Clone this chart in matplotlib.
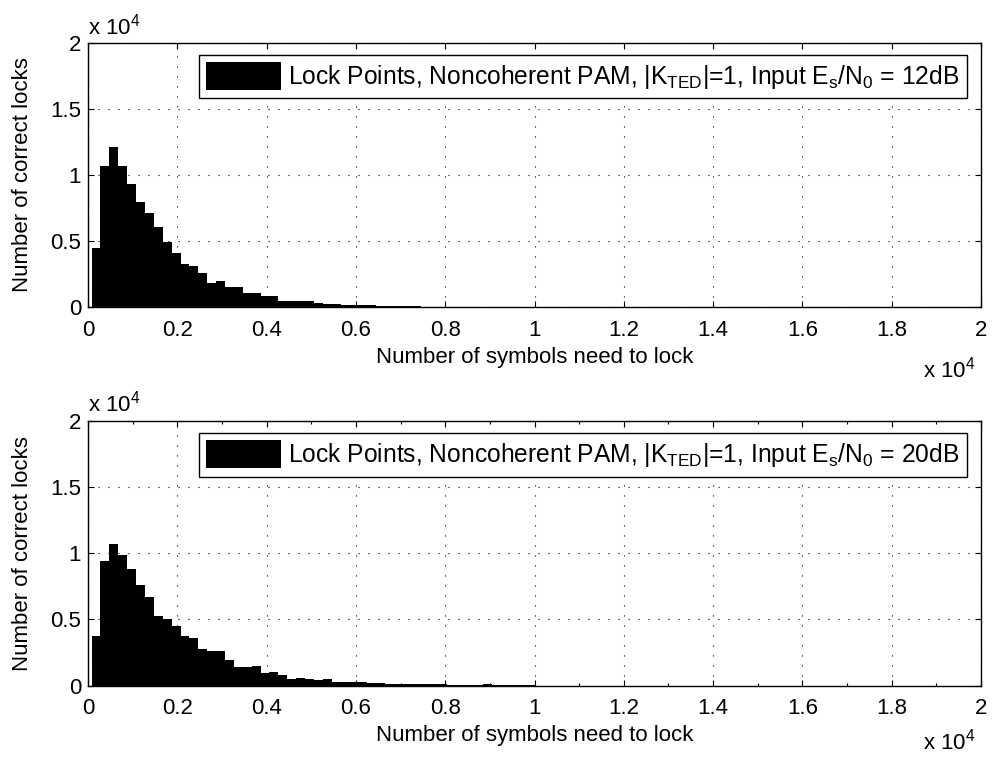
import numpy as np
import matplotlib
matplotlib.use("Agg")
import matplotlib.pyplot as plt

plt.rcParams['font.family'] = ['Liberation Sans', 'DejaVu Sans']
plt.rcParams['mathtext.fontset'] = 'custom'
plt.rcParams['mathtext.rm'] = 'Liberation Sans'
plt.rcParams['mathtext.it'] = 'Liberation Sans:italic'
plt.rcParams['mathtext.bf'] = 'Liberation Sans:bold'

# ---- data ----
bin_edges = np.linspace(80, 20000, 101)

counts_12dB = [4450, 10650, 12100, 10650, 9325, 7925, 7125, 6025, 4925, 4075,
               3250, 3075, 2575, 1800, 2000, 1525, 1525, 1075, 1075, 850,
               800, 450, 475, 475, 460, 290, 250, 250, 175, 150,
               125, 125, 100, 75, 50, 50, 40, 30, 25, 25,
               20, 15, 10, 10, 8, 5, 5, 3, 2, 2] + [0] * 50

counts_20dB = [3750, 9450, 10675, 9900, 8825, 7575, 6675, 5275, 5000, 4500,
               3750, 3575, 2725, 2625, 2625, 1925, 1400, 1400, 1450, 925,
               1000, 800, 500, 590, 500, 420, 470, 260, 290, 240,
               230, 200, 170, 150, 140, 110, 100, 100, 90, 80,
               75, 70, 55, 60, 80, 60, 30, 20, 10, 5] + [0] * 50

legend_labels = [
    r'Lock Points, Noncoherent PAM, |K$_{\mathrm{TED}}$|=1, Input E$_{\mathrm{s}}$/N$_{\mathrm{0}}$ = 12dB',
    r'Lock Points, Noncoherent PAM, |K$_{\mathrm{TED}}$|=1, Input E$_{\mathrm{s}}$/N$_{\mathrm{0}}$ = 20dB',
]
x_ticks = [0, 2000, 4000, 6000, 8000, 10000, 12000, 14000, 16000, 18000, 20000]
x_tick_labels = ['0', '0.2', '0.4', '0.6', '0.8', '1', '1.2', '1.4', '1.6', '1.8', '2']
y_ticks = [0, 5000, 10000, 15000, 20000]
y_tick_labels = ['0', '0.5', '1', '1.5', '2']
xlabel = 'Number of symbols need to lock'
ylabel = 'Number of correct locks'

W, H = 993, 762
fig = plt.figure(figsize=(W / 100, H / 100), dpi=100)

axes_px = [(88, 42.7, 981, 307), (88, 421, 981, 685.5)]
legend_top_px = [54.7, 433]
xlabel_y_px = [358, 736]
xexp_y_px = [370, 742]
yexp_y_px = [27, 404]
FS = 16
LFS = 17.7

for k, (counts, lab) in enumerate([(counts_12dB, legend_labels[0]), (counts_20dB, legend_labels[1])]):
    l, t, r, b = axes_px[k]
    ax = fig.add_axes([l / W, 1 - b / H, (r - l) / W, (b - t) / H])
    widths = np.diff(bin_edges)
    ax.bar(bin_edges[:-1], counts, width=widths, align='edge', color='black',
           edgecolor='none', linewidth=0, label=lab, zorder=2)
    ax.set_xlim(0, 20000)
    ax.set_ylim(0, 20000)
    ax.set_xticks(x_ticks)
    ax.set_xticklabels(x_tick_labels)
    ax.set_yticks(y_ticks)
    ax.set_yticklabels(y_tick_labels)
    if k == 1:
        ax.set_xticks(np.arange(1000, 20000, 2000), minor=True)
    ax.tick_params(axis='both', which='major', direction='in', length=4, width=0.8,
                   top=True, right=True, labelsize=FS, colors='black')
    ax.tick_params(axis='x', which='major', pad=9)
    ax.tick_params(axis='y', which='major', pad=5)
    ax.tick_params(axis='x', which='minor', direction='in', length=2.5, width=0.8,
                   top=True, bottom=True)
    ax.grid(True, which='major', linestyle=(0, (1, 8)), color='black', linewidth=0.8, zorder=1)
    ax.set_axisbelow(True)
    for s in ax.spines.values():
        s.set_linewidth(1.0)
        s.set_color('black')
        s.set_zorder(5)
    ax.set_ylabel(ylabel, fontsize=FS)
    ax.yaxis.set_label_coords((33 - l) / (r - l), 0.5)
    fig.text((l + r) / 2 / W, 1 - xlabel_y_px[k] / H, xlabel, fontsize=FS,
             ha='center', va='center')
    fig.text(l / W, 1 - yexp_y_px[k] / H, r'x 10$^{4}$', fontsize=FS, ha='left', va='center')
    fig.text(975 / W, 1 - xexp_y_px[k] / H, r'x 10$^{4}$', fontsize=FS, ha='right', va='center')
    leg = ax.legend(loc='upper right', bbox_to_anchor=(967 / W, 1 - legend_top_px[k] / H),
                    bbox_transform=fig.transFigure, borderaxespad=0, fontsize=LFS,
                    handlelength=3.05, handleheight=1.34, handletextpad=0.3,
                    borderpad=0.3, fancybox=False, framealpha=1, edgecolor='black')
    leg.get_frame().set_linewidth(1.0)
    leg.set_zorder(10)

fig.savefig('out.png', dpi=100)
